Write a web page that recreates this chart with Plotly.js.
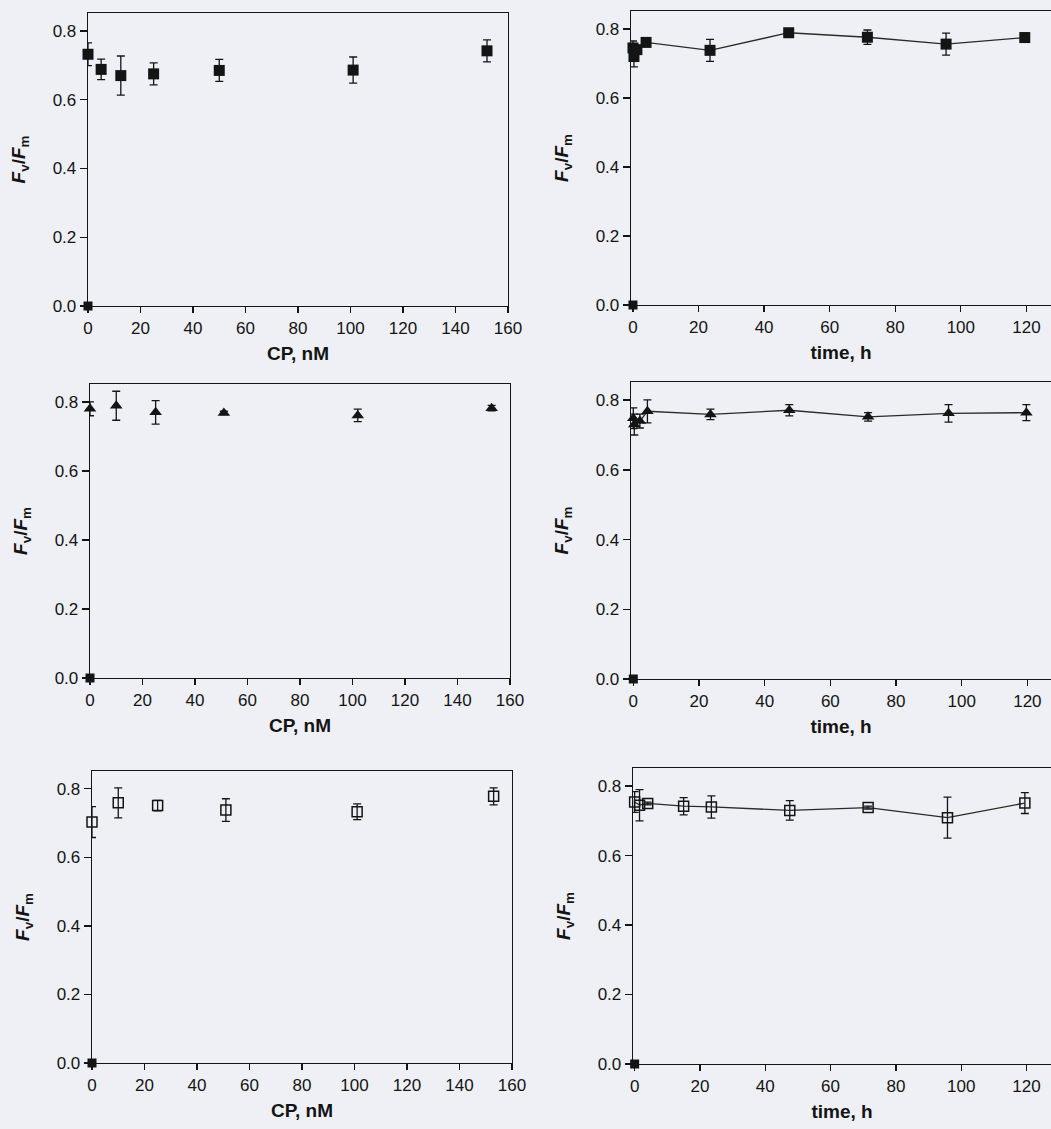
<!DOCTYPE html>
<html>
<head>
<meta charset="utf-8">
<script src="https://cdn.plot.ly/plotly-3.0.1.min.js"></script>
<style>
html,body{margin:0;padding:0;background:#eef0f5;overflow:hidden;}
#chart{width:1051px;height:1129px;}
</style>
</head>
<body>
<div id="chart"></div>
<script>
// ---- Data ----
// Left column: Fv/Fm vs CP concentration (nM)
var cpA = [0, 5, 12.5, 25, 50, 101, 152];
var fvA = [0.732, 0.688, 0.670, 0.675, 0.685, 0.686, 0.742];
var errA = [0.033, 0.030, 0.057, 0.032, 0.032, 0.038, 0.032];

var cpB = [0, 10, 25, 51, 102, 153];
var fvB = [0.780, 0.789, 0.770, 0.768, 0.761, 0.782];
var errB = [0.020, 0.042, 0.034, 0.005, 0.018, 0.008];

var cpC = [0, 10, 25, 51, 101, 153];
var fvC = [0.703, 0.759, 0.751, 0.738, 0.733, 0.778];
var errC = [0.045, 0.044, 0.015, 0.033, 0.023, 0.025];

// Right column: Fv/Fm vs time (h)
var tA = [0, 0.3, 1.2, 4, 23.5, 47.5, 71.5, 95.5, 119.5];
var fvtA = [0.745, 0.720, 0.740, 0.761, 0.738, 0.789, 0.776, 0.756, 0.775];
var errtA = [0.020, 0.030, 0.010, 0.010, 0.032, 0.005, 0.021, 0.032, 0.013];

var tB = [0, 0.3, 2, 4.3, 23.5, 47.5, 71.5, 96, 119.7];
var fvtB = [0.748, 0.730, 0.740, 0.768, 0.759, 0.771, 0.752, 0.762, 0.764];
var errtB = [0.030, 0.030, 0.020, 0.033, 0.015, 0.016, 0.012, 0.025, 0.023];

var tC = [0, 1.5, 4, 15, 23.5, 47.5, 71.5, 95.8, 119.5];
var fvtC = [0.754, 0.745, 0.750, 0.742, 0.740, 0.730, 0.738, 0.709, 0.751];
var errtC = [0.030, 0.045, 0.004, 0.025, 0.032, 0.028, 0.004, 0.059, 0.030];

// Control point at (0, 0) in every panel
var ctrlX = [0];
var ctrlY = [0];

var yTicks = [0, 0.2, 0.4, 0.6, 0.8];
var yTickText = ['0.0', '0.2', '0.4', '0.6', '0.8'];

// ---- Styling helpers ----
var ink = '#141414';
var W = 1051, H = 1129;
function xd(a, b) { return [a / W, b / W]; }
function yd(top, bottom) { return [1 - bottom / H, 1 - top / H]; }

function errBar(arr) {
  return {type: 'data', array: arr, visible: true, color: ink, thickness: 1.3, width: 4};
}

var traces = [];
function addPanel(n, xs, ys, errs, symbol, lineMode) {
  var xa = n === 1 ? 'x' : 'x' + n;
  var ya = n === 1 ? 'y' : 'y' + n;
  var open = symbol.indexOf('open') >= 0;
  traces.push({
    x: xs, y: ys, xaxis: xa, yaxis: ya,
    type: 'scatter', mode: lineMode ? 'lines+markers' : 'markers',
    line: {color: '#2a2a2a', width: 1.3},
    marker: {symbol: symbol, size: open ? 10 : 11, color: ink,
             line: {color: ink, width: open ? 1.5 : 0}},
    error_y: errBar(errs),
    cliponaxis: false, showlegend: false, hoverinfo: 'x+y'
  });
  traces.push({
    x: ctrlX, y: ctrlY, xaxis: xa, yaxis: ya,
    type: 'scatter', mode: 'markers',
    marker: {symbol: 'square', size: 9, color: ink},
    cliponaxis: false, showlegend: false, hoverinfo: 'x+y'
  });
}

addPanel(1, cpA, fvA, errA, 'square', false);
addPanel(2, tA, fvtA, errtA, 'square', true);
addPanel(3, cpB, fvB, errB, 'triangle-up', false);
addPanel(4, tB, fvtB, errtB, 'triangle-up', true);
addPanel(5, cpC, fvC, errC, 'square-open', false);
addPanel(6, tC, fvtC, errtC, 'square-open', true);

var fam = '"Liberation Sans", Arial, sans-serif';
var tickFont = {family: fam, size: 17, color: ink};
var titleFont = {family: fam, size: 19, color: ink};
var yTitle = '<b><i>F</i><sub>v</sub>/<i>F</i><sub>m</sub></b>';

function xAxis(dom, anchor, rng, dtick, label) {
  return {
    domain: dom, anchor: anchor, range: rng, autorange: false,
    tick0: 0, dtick: dtick, tickmode: 'linear',
    showline: true, linecolor: ink, linewidth: 1.3, mirror: true,
    ticks: 'outside', ticklen: 6, tickwidth: 1.3, tickcolor: ink,
    showgrid: false, zeroline: false, tickfont: tickFont,
    title: {text: '<b>' + label + '</b>', font: titleFont, standoff: 10}
  };
}
function yAxis(dom, anchor, right) {
  return {
    domain: dom, anchor: anchor, range: [0, 0.852], autorange: false,
    tickmode: 'array', tickvals: yTicks, ticktext: yTickText,
    showline: true, linecolor: ink, linewidth: 1.3, mirror: !right,
    ticks: 'outside', ticklen: 7, tickwidth: 1.3, tickcolor: ink,
    showgrid: false, zeroline: false, tickfont: tickFont,
    title: {text: yTitle, font: titleFont, standoff: 22}
  };
}

var layout = {
  width: W, height: H,
  font: {family: fam, size: 17, color: ink},
  margin: {l: 0, r: 0, t: 0, b: 0},
  paper_bgcolor: '#eef0f5', plot_bgcolor: '#eef0f5',
  showlegend: false,
  xaxis:  xAxis(xd(88, 508), 'y', [0, 160], 20, 'CP, nM'),
  yaxis:  yAxis(yd(13, 306), 'x', false),
  xaxis2: xAxis(xd(631, 1051), 'y2', [-0.6, 127.5], 20, 'time, h'),
  yaxis2: yAxis(yd(11, 305), 'x2', true),
  xaxis3: xAxis(xd(90, 510), 'y3', [0, 160], 20, 'CP, nM'),
  yaxis3: yAxis(yd(384, 678), 'x3', false),
  xaxis4: xAxis(xd(631, 1051), 'y4', [-0.7, 127.2], 20, 'time, h'),
  yaxis4: yAxis(yd(382, 679), 'x4', true),
  xaxis5: xAxis(xd(92, 512), 'y5', [0, 160], 20, 'CP, nM'),
  yaxis5: yAxis(yd(771, 1063), 'x5', false),
  xaxis6: xAxis(xd(633, 1051), 'y6', [-0.5, 127.5], 20, 'time, h'),
  yaxis6: yAxis(yd(768, 1064), 'x6', true)
};

Plotly.newPlot('chart', traces, layout, {staticPlot: true, displayModeBar: false});
</script>
</body>
</html>
